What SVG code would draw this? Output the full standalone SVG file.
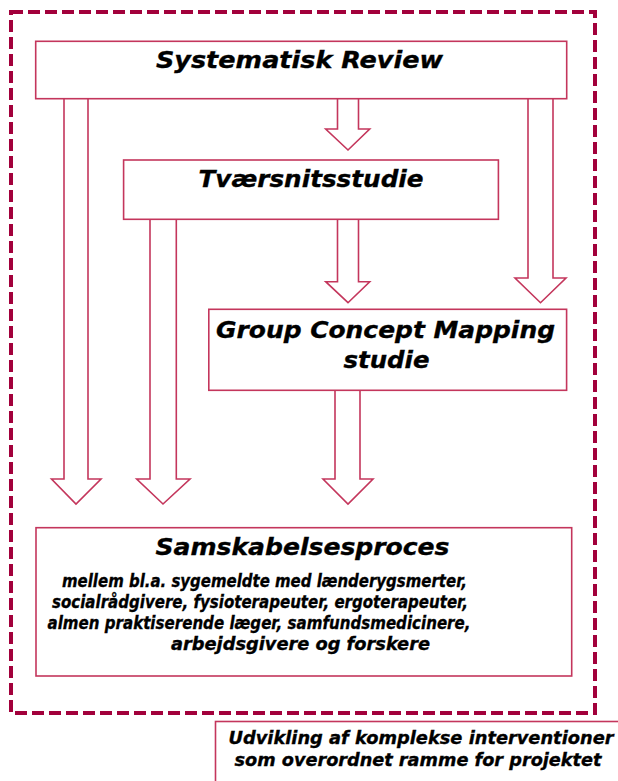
<svg xmlns="http://www.w3.org/2000/svg" width="618" height="781" viewBox="0 0 618 781">
<style>
.box{fill:#fff;stroke:#c4365c;stroke-width:1.6}
.arr{fill:#fff;stroke:#c4365c;stroke-width:1.6;stroke-linejoin:miter}
.frame{fill:none;stroke:#a2003b;stroke-width:4;stroke-dasharray:12 5}
text{font-family:"DejaVu Sans","Verdana",sans-serif;font-weight:bold;font-style:italic;fill:#000;stroke:#000;stroke-width:0.35}
.t25{font-size:23px}
.t18{font-size:18px}
</style>
<rect width="618" height="781" fill="#fff"/>
<rect class="frame" x="11" y="12" width="584" height="701"/>
<g id="connectors">
<path class="arr" d="M64,98.7 V479 H51.5 L76,504 L101,479 H88 V98.7"/>
<path class="arr" d="M337.5,98.7 V129 H325.7 L348,150 L369.7,129 H358.5 V98.7"/>
<path class="arr" d="M528,98.7 V278 H515 L540.5,302.7 L566,278 H553 V98.7"/>
<path class="arr" d="M150,219.3 V479 H136.7 L163,504 L190,479 H176.3 V219.3"/>
<path class="arr" d="M337.5,219.3 V281.7 H325.7 L348,302.7 L369.7,281.7 H358.5 V219.3"/>
<path class="arr" d="M335,390.3 V479 H323 L348,504 L373,479 H360 V390.3"/>
</g>
<g id="systematisk-review">
<rect class="box" x="35.7" y="41.3" width="531" height="57.4"/>
<text class="t25" x="156" y="67.5" textLength="287" lengthAdjust="spacingAndGlyphs">Systematisk Review</text>
</g>
<g id="tvaersnitsstudie">
<rect class="box" x="123.6" y="160" width="374.8" height="59.3"/>
<text class="t25" x="198.5" y="187" textLength="225" lengthAdjust="spacingAndGlyphs">Tværsnitsstudie</text>
</g>
<g id="group-concept-mapping">
<rect class="box" x="208.8" y="309.3" width="357.8" height="81"/>
<text class="t25" x="216" y="338" textLength="339" lengthAdjust="spacingAndGlyphs">Group Concept Mapping</text>
<text class="t25" x="343.5" y="368" textLength="86" lengthAdjust="spacingAndGlyphs">studie</text>
</g>
<g id="samskabelsesproces">
<rect class="box" x="36" y="527.7" width="535.7" height="148.3"/>
<text class="t25" x="155.5" y="555" textLength="294" lengthAdjust="spacingAndGlyphs">Samskabelsesproces</text>
<text class="t18" x="62" y="587" textLength="405" lengthAdjust="spacingAndGlyphs">mellem bl.a. sygemeldte med lænderygsmerter,</text>
<text class="t18" x="52" y="607.5" textLength="416" lengthAdjust="spacingAndGlyphs">socialrådgivere, fysioterapeuter, ergoterapeuter,</text>
<text class="t18" x="47.5" y="628.5" textLength="423" lengthAdjust="spacingAndGlyphs">almen praktiserende læger, samfundsmedicinere,</text>
<text class="t18" x="171" y="649.5" textLength="259" lengthAdjust="spacingAndGlyphs">arbejdsgivere og forskere</text>
</g>
<g id="udvikling">
<rect class="box" x="215.5" y="721.5" width="410" height="70"/>
<text class="t18" x="228.5" y="743.5" textLength="385" lengthAdjust="spacingAndGlyphs">Udvikling af komplekse interventioner</text>
<text class="t18" x="234.5" y="765.5" textLength="367" lengthAdjust="spacingAndGlyphs">som overordnet ramme for projektet</text>
</g>
</svg>
